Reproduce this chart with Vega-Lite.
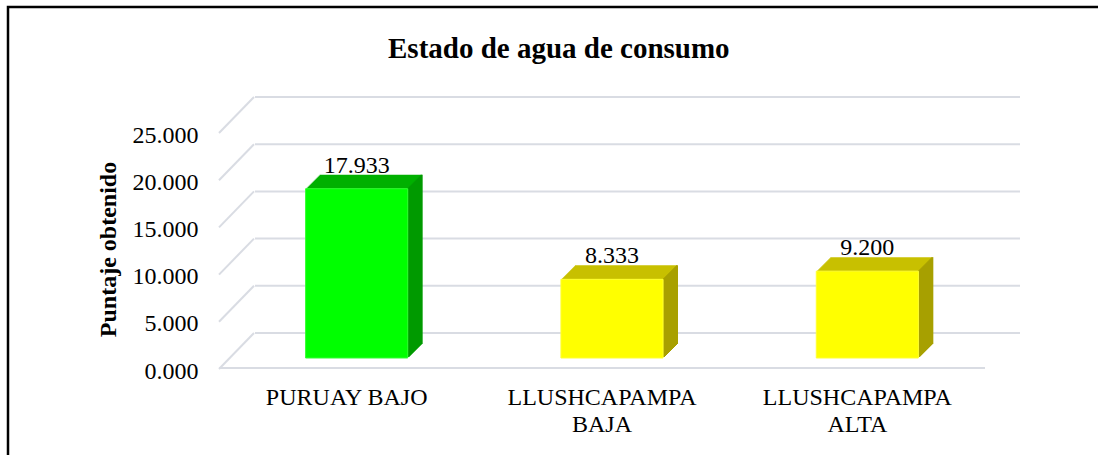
{
  "$schema": "https://vega.github.io/schema/vega-lite/v6.json",
  "autosize": {"type": "none"},
  "padding": {"left": 8, "top": 7, "right": -60, "bottom": -40},
  "width": 1150,
  "height": 488,
  "background": "white",
  "config": {
    "view": {"stroke": "#000000", "strokeWidth": 2.5},
    "font": "Liberation Serif"
  },
  "title": {
    "text": "Estado de agua de consumo",
    "font": "Liberation Serif",
    "fontSize": 29,
    "fontWeight": "bold",
    "color": "#000000",
    "anchor": "start",
    "frame": "group",
    "baseline": "alphabetic",
    "offset": -80,
    "dx": 380
  },
  "data": {
    "values": [
      {"cat": "PURUAY BAJO", "value": 17.933},
      {"cat": "LLUSHCAPAMPA BAJA", "value": 8.333},
      {"cat": "LLUSHCAPAMPA ALTA", "value": 9.2}
    ]
  },
  "encoding": {
    "x": {
      "field": "cat",
      "type": "nominal",
      "sort": null,
      "scale": {"domain": ["PURUAY BAJO", "LLUSHCAPAMPA BAJA", "LLUSHCAPAMPA ALTA"], "range": [211, 977], "paddingInner": 0.6, "paddingOuter": 0.3},
      "axis": {
        "title": null,
        "orient": "bottom",
        "offset": -128,
        "domain": false,
        "ticks": false,
        "labelAngle": 0,
        "labelPadding": 18,
        "labelLimit": 0,
        "labelFont": "Liberation Serif",
        "labelFontSize": 24,
        "labelColor": "#000000",
        "labelLineHeight": 27,
        "labelExpr": "datum.value == 'PURUAY BAJO' ? datum.label : split(datum.label, ' ')"
      }
    },
    "y": {
      "field": "value",
      "type": "quantitative",
      "scale": {"domain": [0, 25], "range": [360, 124], "nice": false},
      "axis": {
        "title": "Puntaje obtenido",
        "titleFont": "Liberation Serif",
        "titleFontSize": 24,
        "titleFontWeight": "bold",
        "titleColor": "#000000",
        "titlePadding": 12,
        "orient": "left",
        "offset": -211,
        "values": [0, 5, 10, 15, 20, 25],
        "format": ".3f",
        "grid": false,
        "domain": false,
        "ticks": false,
        "labelPadding": 21,
        "labelOffset": 4,
        "labelFont": "Liberation Serif",
        "labelFontSize": 24,
        "labelColor": "#000000"
      }
    }
  },
  "layer": [
    {
      "data": {"values": [{"v": 0}, {"v": 5}, {"v": 10}, {"v": 15}, {"v": 20}, {"v": 25}]},
      "mark": {"type": "rule", "color": "#d9dce3", "strokeWidth": 2, "xOffset": 36, "x2Offset": 35, "yOffset": -34},
      "encoding": {
        "x": {"datum": "PURUAY BAJO", "type": "nominal", "bandPosition": -0.75},
        "x2": {"datum": "LLUSHCAPAMPA ALTA", "bandPosition": 1.75},
        "y": {"field": "v", "type": "quantitative"}
      }
    },
    {
      "data": {"values": [{"v": 0}, {"v": 5}, {"v": 10}, {"v": 15}, {"v": 20}, {"v": 25}]},
      "mark": {"type": "rule", "color": "#d9dce3", "strokeWidth": 2, "yOffset": 2, "x2Offset": 35, "y2Offset": -34},
      "encoding": {
        "x": {"datum": "PURUAY BAJO", "type": "nominal", "bandPosition": -0.75},
        "x2": {"datum": "PURUAY BAJO", "bandPosition": -0.75},
        "y": {"field": "v", "type": "quantitative"},
        "y2": {"field": "v"}
      }
    },
    {
      "data": {"values": [{"v": 0}]},
      "mark": {"type": "rule", "color": "#d9dce3", "strokeWidth": 2, "yOffset": 1},
      "encoding": {
        "x": {"datum": "PURUAY BAJO", "type": "nominal", "bandPosition": -0.75},
        "x2": {"datum": "LLUSHCAPAMPA ALTA", "bandPosition": 1.75},
        "y": {"field": "v", "type": "quantitative"}
      }
    },
    {"mark": {"type": "bar", "xOffset": 24, "yOffset": -23, "y2Offset": -23}, "encoding": {"color": {"condition": {"test": "datum.cat == 'PURUAY BAJO'", "value": "#00b000"}, "value": "#c8c000"}}},
    {"mark": {"type": "bar", "xOffset": 23, "yOffset": -22, "y2Offset": -22}, "encoding": {"color": {"condition": {"test": "datum.cat == 'PURUAY BAJO'", "value": "#00b000"}, "value": "#c8c000"}}},
    {"mark": {"type": "bar", "xOffset": 22, "yOffset": -21, "y2Offset": -21}, "encoding": {"color": {"condition": {"test": "datum.cat == 'PURUAY BAJO'", "value": "#00b000"}, "value": "#c8c000"}}},
    {"mark": {"type": "bar", "xOffset": 21, "yOffset": -20, "y2Offset": -20}, "encoding": {"color": {"condition": {"test": "datum.cat == 'PURUAY BAJO'", "value": "#00b000"}, "value": "#c8c000"}}},
    {"mark": {"type": "bar", "xOffset": 20, "yOffset": -19, "y2Offset": -19}, "encoding": {"color": {"condition": {"test": "datum.cat == 'PURUAY BAJO'", "value": "#00b000"}, "value": "#c8c000"}}},
    {"mark": {"type": "bar", "xOffset": 19, "yOffset": -18, "y2Offset": -18}, "encoding": {"color": {"condition": {"test": "datum.cat == 'PURUAY BAJO'", "value": "#00b000"}, "value": "#c8c000"}}},
    {"mark": {"type": "bar", "xOffset": 18, "yOffset": -17, "y2Offset": -17}, "encoding": {"color": {"condition": {"test": "datum.cat == 'PURUAY BAJO'", "value": "#00b000"}, "value": "#c8c000"}}},
    {"mark": {"type": "bar", "xOffset": 17, "yOffset": -16, "y2Offset": -16}, "encoding": {"color": {"condition": {"test": "datum.cat == 'PURUAY BAJO'", "value": "#00b000"}, "value": "#c8c000"}}},
    {"mark": {"type": "bar", "xOffset": 16, "yOffset": -15, "y2Offset": -15}, "encoding": {"color": {"condition": {"test": "datum.cat == 'PURUAY BAJO'", "value": "#00b000"}, "value": "#c8c000"}}},
    {"mark": {"type": "bar", "xOffset": 15, "yOffset": -14, "y2Offset": -14}, "encoding": {"color": {"condition": {"test": "datum.cat == 'PURUAY BAJO'", "value": "#00b000"}, "value": "#c8c000"}}},
    {"mark": {"type": "bar", "xOffset": 14, "yOffset": -13, "y2Offset": -13}, "encoding": {"color": {"condition": {"test": "datum.cat == 'PURUAY BAJO'", "value": "#00b000"}, "value": "#c8c000"}}},
    {"mark": {"type": "bar", "xOffset": 13, "yOffset": -12, "y2Offset": -12}, "encoding": {"color": {"condition": {"test": "datum.cat == 'PURUAY BAJO'", "value": "#00b000"}, "value": "#c8c000"}}},
    {"mark": {"type": "bar", "xOffset": 12, "yOffset": -11, "y2Offset": -11}, "encoding": {"color": {"condition": {"test": "datum.cat == 'PURUAY BAJO'", "value": "#00b000"}, "value": "#c8c000"}}},
    {"mark": {"type": "bar", "xOffset": 11, "yOffset": -10, "y2Offset": -10}, "encoding": {"color": {"condition": {"test": "datum.cat == 'PURUAY BAJO'", "value": "#00b000"}, "value": "#c8c000"}}},
    {"mark": {"type": "bar", "width": 2, "xOffset": 75, "yOffset": -23, "y2Offset": -23}, "encoding": {"color": {"condition": {"test": "datum.cat == 'PURUAY BAJO'", "value": "#009a00"}, "value": "#a8a000"}}},
    {"mark": {"type": "bar", "width": 2, "xOffset": 74, "yOffset": -22, "y2Offset": -22}, "encoding": {"color": {"condition": {"test": "datum.cat == 'PURUAY BAJO'", "value": "#009a00"}, "value": "#a8a000"}}},
    {"mark": {"type": "bar", "width": 2, "xOffset": 73, "yOffset": -21, "y2Offset": -21}, "encoding": {"color": {"condition": {"test": "datum.cat == 'PURUAY BAJO'", "value": "#009a00"}, "value": "#a8a000"}}},
    {"mark": {"type": "bar", "width": 2, "xOffset": 72, "yOffset": -20, "y2Offset": -20}, "encoding": {"color": {"condition": {"test": "datum.cat == 'PURUAY BAJO'", "value": "#009a00"}, "value": "#a8a000"}}},
    {"mark": {"type": "bar", "width": 2, "xOffset": 71, "yOffset": -19, "y2Offset": -19}, "encoding": {"color": {"condition": {"test": "datum.cat == 'PURUAY BAJO'", "value": "#009a00"}, "value": "#a8a000"}}},
    {"mark": {"type": "bar", "width": 2, "xOffset": 70, "yOffset": -18, "y2Offset": -18}, "encoding": {"color": {"condition": {"test": "datum.cat == 'PURUAY BAJO'", "value": "#009a00"}, "value": "#a8a000"}}},
    {"mark": {"type": "bar", "width": 2, "xOffset": 69, "yOffset": -17, "y2Offset": -17}, "encoding": {"color": {"condition": {"test": "datum.cat == 'PURUAY BAJO'", "value": "#009a00"}, "value": "#a8a000"}}},
    {"mark": {"type": "bar", "width": 2, "xOffset": 68, "yOffset": -16, "y2Offset": -16}, "encoding": {"color": {"condition": {"test": "datum.cat == 'PURUAY BAJO'", "value": "#009a00"}, "value": "#a8a000"}}},
    {"mark": {"type": "bar", "width": 2, "xOffset": 67, "yOffset": -15, "y2Offset": -15}, "encoding": {"color": {"condition": {"test": "datum.cat == 'PURUAY BAJO'", "value": "#009a00"}, "value": "#a8a000"}}},
    {"mark": {"type": "bar", "width": 2, "xOffset": 66, "yOffset": -14, "y2Offset": -14}, "encoding": {"color": {"condition": {"test": "datum.cat == 'PURUAY BAJO'", "value": "#009a00"}, "value": "#a8a000"}}},
    {"mark": {"type": "bar", "width": 2, "xOffset": 65, "yOffset": -13, "y2Offset": -13}, "encoding": {"color": {"condition": {"test": "datum.cat == 'PURUAY BAJO'", "value": "#009a00"}, "value": "#a8a000"}}},
    {"mark": {"type": "bar", "width": 2, "xOffset": 64, "yOffset": -12, "y2Offset": -12}, "encoding": {"color": {"condition": {"test": "datum.cat == 'PURUAY BAJO'", "value": "#009a00"}, "value": "#a8a000"}}},
    {"mark": {"type": "bar", "width": 2, "xOffset": 63, "yOffset": -11, "y2Offset": -11}, "encoding": {"color": {"condition": {"test": "datum.cat == 'PURUAY BAJO'", "value": "#009a00"}, "value": "#a8a000"}}},
    {"mark": {"type": "bar", "width": 2, "xOffset": 62, "yOffset": -10, "y2Offset": -10}, "encoding": {"color": {"condition": {"test": "datum.cat == 'PURUAY BAJO'", "value": "#009a00"}, "value": "#a8a000"}}},
    {
      "mark": {"type": "bar", "xOffset": 10, "yOffset": -9, "y2Offset": -9, "strokeWidth": 1},
      "encoding": {
        "color": {"condition": {"test": "datum.cat == 'PURUAY BAJO'", "value": "#00ff00"}, "value": "#ffff00"},
        "stroke": {"condition": {"test": "datum.cat == 'PURUAY BAJO'", "value": "#33ff33"}, "value": "#ffff33"}
      }
    },
    {
      "mark": {"type": "text", "font": "Liberation Serif", "fontSize": 24, "color": "#000000", "baseline": "alphabetic", "align": "center", "xOffset": 10, "yOffset": -25},
      "encoding": {
        "text": {"field": "value", "type": "quantitative", "format": ".3f"}
      }
    }
  ]
}
